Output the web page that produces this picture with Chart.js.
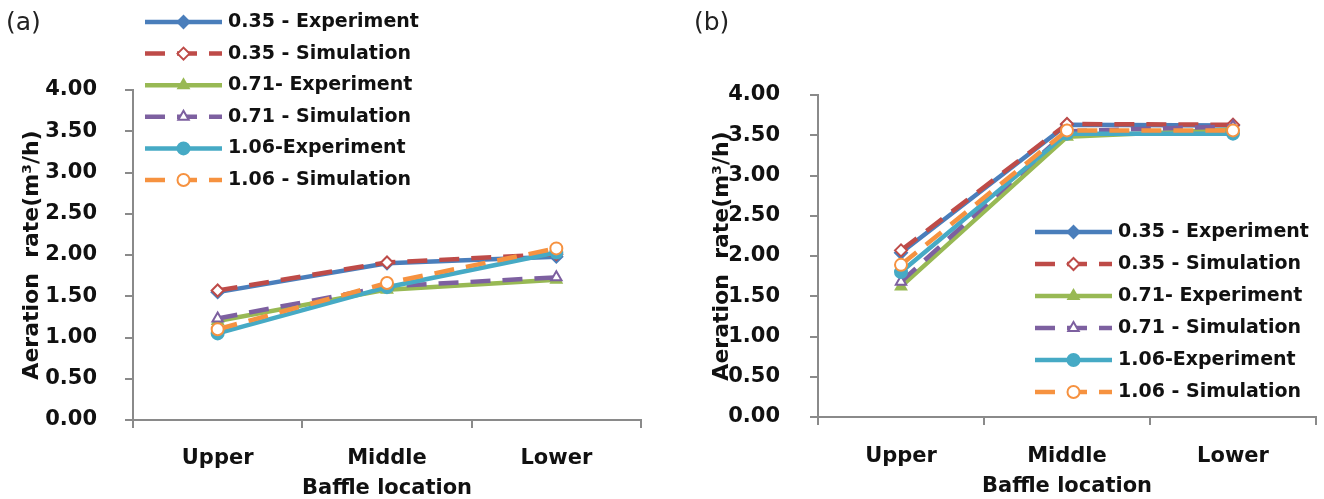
<!DOCTYPE html>
<html>
<head>
<meta charset="utf-8">
<script src="https://cdn.jsdelivr.net/npm/chart.js@4.4.1/dist/chart.umd.min.js"></script>
<style>
  body { margin: 0; background: #fff; }
  .panel { position: absolute; top: 0; width: 662px; height: 499px; }
  .tag { position: absolute; top: 7px; font: 25px "DejaVu Sans"; color: #222; }
</style>
</head>
<body>
<div class="panel" style="left:0"><canvas id="chartA" width="662" height="499"></canvas></div>
<div class="panel" style="left:662px"><canvas id="chartB" width="662" height="499"></canvas></div>
<div class="tag" style="left:6px">(a)</div>
<div class="tag" style="left:694px">(b)</div>
<script>
// categories and series names
const locations = ['Upper', 'Middle', 'Lower'];
const seriesNames = ['0.35 - Experiment', '0.35 - Simulation', '0.71- Experiment',
    '0.71 - Simulation', '1.06-Experiment', '1.06 - Simulation'];

// panel (a)
const a035Exp = [1.55, 1.90, 1.98];
const a035Sim = [1.57, 1.91, 2.01];
const a071Exp = [1.20, 1.58, 1.70];
const a071Sim = [1.23, 1.62, 1.73];
const a106Exp = [1.05, 1.61, 2.03];
const a106Sim = [1.10, 1.66, 2.08];

// panel (b)
const b035Exp = [2.04, 3.63, 3.62];
const b035Sim = [2.07, 3.64, 3.63];
const b071Exp = [1.62, 3.48, 3.57];
const b071Sim = [1.68, 3.55, 3.61];
const b106Exp = [1.80, 3.52, 3.52];
const b106Sim = [1.89, 3.56, 3.56];

const yMin = 0, yMax = 4, yStep = 0.5;

const colors = ['#4A7EBB', '#BE4B48', '#98B954', '#7D60A0', '#46AAC5', '#F69240'];
const markers = ['rectRot', 'rectRot', 'triangle', 'triangle', 'circle', 'circle'];
const dashed = [false, true, false, true, false, true];

Chart.defaults.font.family = '"DejaVu Sans"';
Chart.defaults.color = '#111';

function makeDatasets(values) {
    return values.map((v, i) => ({
        label: seriesNames[i],
        data: v,
        borderColor: colors[i],
        borderWidth: 4.5,
        borderDash: dashed[i] ? [20, 12] : [],
        pointStyle: markers[i],
        pointRadius: 6,
        pointBorderWidth: 2,
        pointBorderColor: colors[i],
        pointBackgroundColor: dashed[i] ? '#fff' : colors[i],
        tension: 0,
        order: values.length - i
    }));
}

// legend with line + marker samples, drawn where the original has it
const sampleLegend = {
    id: 'sampleLegend',
    afterDraw(chart, args, opts) {
        const ctx = chart.ctx;
        ctx.save();
        chart.data.datasets.forEach((ds, i) => {
            const y = opts.y + i * opts.dy;
            ctx.strokeStyle = ds.borderColor;
            ctx.lineWidth = ds.borderWidth;
            ctx.setLineDash(ds.borderDash);
            ctx.beginPath();
            ctx.moveTo(opts.x0, y);
            ctx.lineTo(opts.x1, y);
            ctx.stroke();
            ctx.setLineDash([]);
            ctx.lineWidth = ds.pointBorderWidth;
            ctx.fillStyle = ds.pointBackgroundColor;
            Chart.helpers.drawPoint(ctx, {
                pointStyle: ds.pointStyle, radius: ds.pointRadius,
                rotation: 0, borderWidth: ds.pointBorderWidth
            }, (opts.x0 + opts.x1) / 2, y);
            ctx.fillStyle = '#111';
            ctx.font = 'bold 19px "DejaVu Sans"';
            ctx.textBaseline = 'middle';
            ctx.textAlign = 'left';
            ctx.fillText(ds.label, opts.tx, y);
        });
        ctx.restore();
    }
};

function makeConfig(values, lay) {
    return {
        type: 'line',
        data: { labels: locations, datasets: makeDatasets(values) },
        plugins: [sampleLegend],
        options: {
            responsive: false,
            animation: false,
            layout: { padding: { left: 0, right: lay.right, top: lay.top, bottom: 0 } },
            plugins: {
                legend: { display: false },
                tooltip: { enabled: false },
                sampleLegend: lay.legend
            },
            scales: {
                x: {
                    offset: true,
                    grid: { offset: true, drawOnChartArea: false, tickLength: 8, color: '#8a8a8a', lineWidth: 2 },
                    border: { color: '#8a8a8a', width: 2 },
                    ticks: { padding: lay.xPad, font: { size: 21, weight: 'bold' }, color: '#111' },
                    title: {
                        display: true, text: 'Baffle location', color: '#111',
                        font: { size: 21, weight: 'bold', lineHeight: 1 },
                        padding: { top: 0, bottom: lay.xTitlePad }
                    },
                    afterFit(scale) { scale.height = lay.xHeight; }
                },
                y: {
                    min: yMin, max: yMax,
                    grid: { drawOnChartArea: false, tickLength: 8, color: '#8a8a8a', lineWidth: 2 },
                    border: { color: '#8a8a8a', width: 2 },
                    ticks: {
                        stepSize: yStep, padding: lay.yPad, color: '#111',
                        font: { size: 21, weight: 'bold' },
                        callback: (v) => v.toFixed(2)
                    },
                    title: {
                        display: true, text: 'Aeration  rate(m³/h)', color: '#111',
                        font: { size: 22, weight: 'bold', lineHeight: 1.2 },
                        padding: { top: lay.yTitlePad, bottom: 0 }
                    },
                    afterFit(scale) { scale.width = lay.yWidth; }
                }
            }
        }
    };
}

new Chart(document.getElementById('chartA'), makeConfig(
    [a035Exp, a035Sim, a071Exp, a071Sim, a106Exp, a106Sim],
    {
        top: 90, right: 21, yWidth: 133, xHeight: 79,
        yPad: 28, yTitlePad: 19, xPad: 18, xTitlePad: 0,
        legend: { x0: 145, x1: 222, tx: 228, y: 22, dy: 31.6 }
    }
));

new Chart(document.getElementById('chartB'), makeConfig(
    [b035Exp, b035Sim, b071Exp, b071Sim, b106Exp, b106Sim],
    {
        top: 95, right: 8, yWidth: 156, xHeight: 82,
        yPad: 30, yTitlePad: 47, xPad: 19, xTitlePad: 2,
        legend: { x0: 373, x1: 450, tx: 456, y: 232, dy: 32 }
    }
));
</script>
</body>
</html>
